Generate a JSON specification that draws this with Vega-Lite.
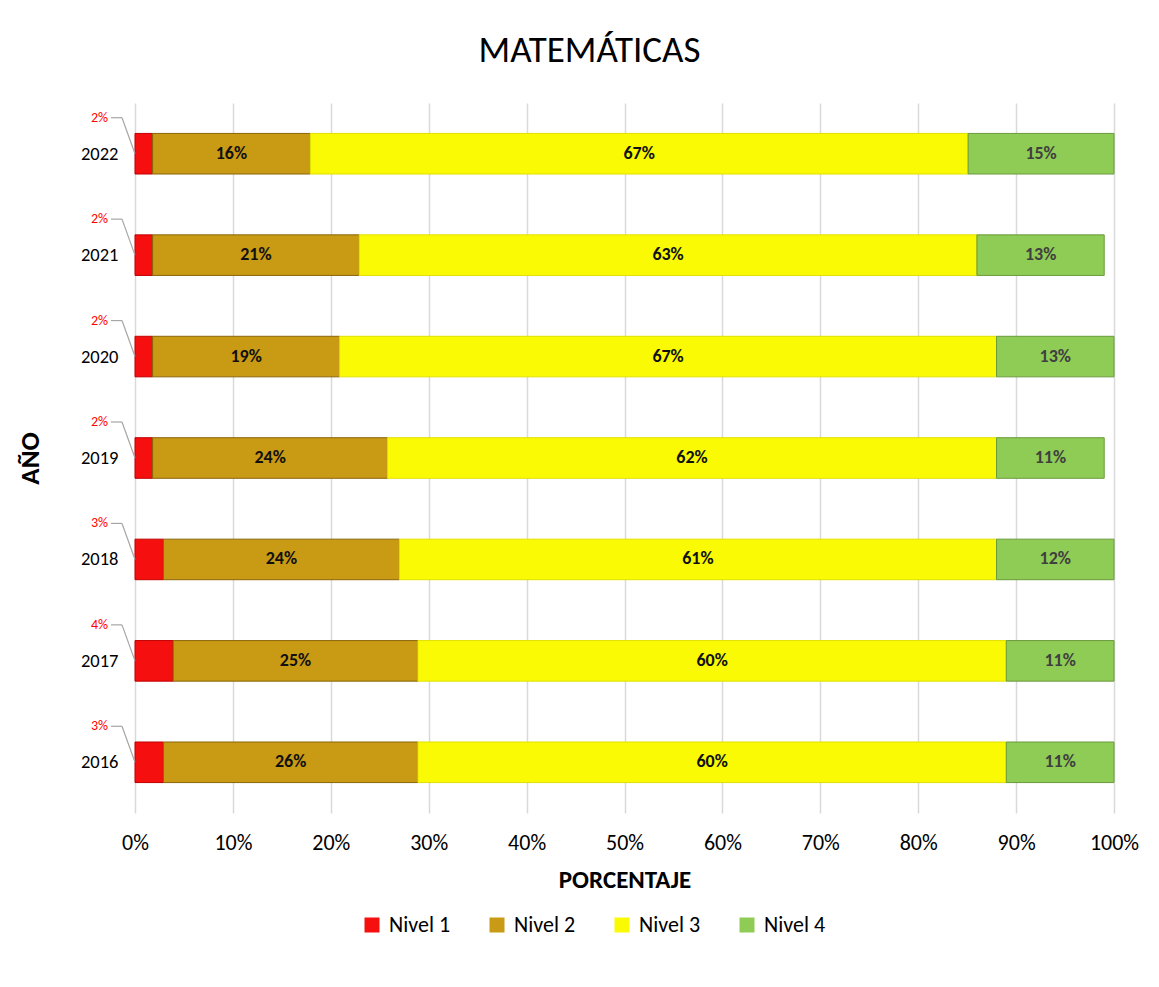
{
  "$schema": "https://vega.github.io/schema/vega-lite/v6.json",
  "width": 979,
  "height": 710,
  "autosize": {"type": "none"},
  "padding": {"left": 135, "top": 103, "right": 45, "bottom": 174},
  "background": "white",
  "title": {
    "text": "MATEMÁTICAS",
    "font": "Carlito, Lato, sans-serif",
    "fontSize": 37,
    "fontWeight": "normal",
    "color": "#000000",
    "anchor": "middle",
    "dx": -35,
    "offset": 4,
    "baseline": "alphabetic"
  },
  "data": {
    "values": [
      {"Año": "2022", "Nivel": "Nivel 1", "Valor": 1.8, "Etiqueta": "2%"},
      {"Año": "2022", "Nivel": "Nivel 2", "Valor": 16.1, "Etiqueta": "16%"},
      {"Año": "2022", "Nivel": "Nivel 3", "Valor": 67.2, "Etiqueta": "67%"},
      {"Año": "2022", "Nivel": "Nivel 4", "Valor": 14.9, "Etiqueta": "15%"},
      {"Año": "2021", "Nivel": "Nivel 1", "Valor": 1.8, "Etiqueta": "2%"},
      {"Año": "2021", "Nivel": "Nivel 2", "Valor": 21.1, "Etiqueta": "21%"},
      {"Año": "2021", "Nivel": "Nivel 3", "Valor": 63.1, "Etiqueta": "63%"},
      {"Año": "2021", "Nivel": "Nivel 4", "Valor": 13.0, "Etiqueta": "13%"},
      {"Año": "2020", "Nivel": "Nivel 1", "Valor": 1.8, "Etiqueta": "2%"},
      {"Año": "2020", "Nivel": "Nivel 2", "Valor": 19.1, "Etiqueta": "19%"},
      {"Año": "2020", "Nivel": "Nivel 3", "Valor": 67.1, "Etiqueta": "67%"},
      {"Año": "2020", "Nivel": "Nivel 4", "Valor": 12.0, "Etiqueta": "13%"},
      {"Año": "2019", "Nivel": "Nivel 1", "Valor": 1.8, "Etiqueta": "2%"},
      {"Año": "2019", "Nivel": "Nivel 2", "Valor": 24.0, "Etiqueta": "24%"},
      {"Año": "2019", "Nivel": "Nivel 3", "Valor": 62.2, "Etiqueta": "62%"},
      {"Año": "2019", "Nivel": "Nivel 4", "Valor": 11.0, "Etiqueta": "11%"},
      {"Año": "2018", "Nivel": "Nivel 1", "Valor": 2.9, "Etiqueta": "3%"},
      {"Año": "2018", "Nivel": "Nivel 2", "Valor": 24.1, "Etiqueta": "24%"},
      {"Año": "2018", "Nivel": "Nivel 3", "Valor": 61.0, "Etiqueta": "61%"},
      {"Año": "2018", "Nivel": "Nivel 4", "Valor": 12.0, "Etiqueta": "12%"},
      {"Año": "2017", "Nivel": "Nivel 1", "Valor": 3.9, "Etiqueta": "4%"},
      {"Año": "2017", "Nivel": "Nivel 2", "Valor": 25.0, "Etiqueta": "25%"},
      {"Año": "2017", "Nivel": "Nivel 3", "Valor": 60.1, "Etiqueta": "60%"},
      {"Año": "2017", "Nivel": "Nivel 4", "Valor": 11.0, "Etiqueta": "11%"},
      {"Año": "2016", "Nivel": "Nivel 1", "Valor": 2.9, "Etiqueta": "3%"},
      {"Año": "2016", "Nivel": "Nivel 2", "Valor": 26.0, "Etiqueta": "26%"},
      {"Año": "2016", "Nivel": "Nivel 3", "Valor": 60.1, "Etiqueta": "60%"},
      {"Año": "2016", "Nivel": "Nivel 4", "Valor": 11.0, "Etiqueta": "11%"}
    ]
  },
  "encoding": {
    "y": {
      "field": "Año",
      "type": "nominal",
      "sort": "descending",
      "scale": {"paddingInner": 0.6, "paddingOuter": 0.3},
      "axis": {
        "title": "AÑO",
        "titleFont": "Carlito, Lato, sans-serif",
        "titleFontSize": 27,
        "titleFontWeight": "bold",
        "titleColor": "#000000",
        "titleX": -105,
        "titleY": 355,
        "titleBaseline": "middle",
        "labelFont": "Carlito, Lato, sans-serif",
        "labelFontSize": 18.5,
        "labelColor": "#000000",
        "labelPadding": 17,
        "ticks": false,
        "domain": false,
        "grid": false
      }
    }
  },
  "layer": [
    {
      "mark": {"type": "bar", "strokeWidth": 1},
      "encoding": {
        "x": {
          "field": "Valor",
          "type": "quantitative",
          "stack": "zero",
          "scale": {"domain": [0, 100], "nice": false},
          "axis": {
            "title": "PORCENTAJE",
            "titleFont": "Carlito, Lato, sans-serif",
            "titleFontSize": 25,
            "titleFontWeight": "bold",
            "titleColor": "#000000",
            "titlePadding": 14,
            "values": [0, 10, 20, 30, 40, 50, 60, 70, 80, 90, 100],
            "labelExpr": "datum.value + '%'",
            "labelFont": "Carlito, Lato, sans-serif",
            "labelFontSize": 22,
            "labelColor": "#000000",
            "labelPadding": 19,
            "labelFlush": false,
            "ticks": false,
            "domain": false,
            "grid": true,
            "gridColor": "#D9D9D9",
            "gridWidth": 1.5
          }
        },
        "color": {
          "field": "Nivel",
          "type": "nominal",
          "scale": {
            "domain": ["Nivel 1", "Nivel 2", "Nivel 3", "Nivel 4"],
            "range": ["#F50F0F", "#C99A14", "#FAFA05", "#8FCC55"]
          },
          "legend": {
            "title": null,
            "orient": "none",
            "direction": "horizontal",
            "legendX": 226,
            "legendY": 811,
            "symbolType": "square",
            "symbolSize": 225,
            "symbolStrokeWidth": 0,
            "labelFont": "Carlito, Lato, sans-serif",
            "labelFontSize": 22,
            "labelColor": "#000000",
            "labelOffset": 6,
            "columnPadding": 35
          }
        },
        "stroke": {
          "field": "Nivel",
          "type": "nominal",
          "scale": {
            "domain": ["Nivel 1", "Nivel 2", "Nivel 3", "Nivel 4"],
            "range": ["#C00000", "#8A6508", "#E0E000", "#6A9A3C"]
          },
          "legend": null
        },
        "order": {"field": "Nivel", "sort": "ascending"}
      }
    },
    {
      "mark": {
        "type": "text",
        "font": "Carlito, Lato, sans-serif",
        "fontSize": 18,
        "fontWeight": "bold",
        "align": "center",
        "baseline": "middle"
      },
      "encoding": {
        "x": {"field": "Valor", "type": "quantitative", "stack": "zero", "bandPosition": 0.5},
        "detail": {"field": "Nivel"},
        "order": {"field": "Nivel", "sort": "ascending"},
        "text": {
          "condition": {"test": "datum.Nivel == 'Nivel 1'", "value": ""},
          "field": "Etiqueta"
        },
        "color": {
          "condition": {"test": "datum.Nivel == 'Nivel 4'", "value": "#404040"},
          "value": "#111111"
        }
      }
    },
    {
      "transform": [{"filter": "datum.Nivel == 'Nivel 1'"}],
      "mark": {
        "type": "text",
        "font": "Carlito, Lato, sans-serif",
        "fontSize": 14,
        "fontWeight": "normal",
        "color": "#FF0000",
        "align": "right",
        "baseline": "middle",
        "dx": -27,
        "dy": -36
      },
      "encoding": {
        "x": {"datum": 0, "type": "quantitative"},
        "text": {"field": "Etiqueta"}
      }
    },
    {
      "transform": [{"filter": "datum.Nivel == 'Nivel 1'"}],
      "mark": {
        "type": "rule",
        "color": "#A6A6A6",
        "strokeWidth": 1.2,
        "xOffset": -13,
        "x2Offset": 0,
        "yOffset": -36,
        "y2Offset": 0
      },
      "encoding": {
        "x": {"datum": 0, "type": "quantitative"},
        "x2": {"datum": 0},
        "y": {"field": "Año", "type": "nominal", "sort": "descending"},
        "y2": {"field": "Año"}
      }
    },
    {
      "transform": [{"filter": "datum.Nivel == 'Nivel 1'"}],
      "mark": {
        "type": "rule",
        "color": "#A6A6A6",
        "strokeWidth": 1.2,
        "xOffset": -24,
        "x2Offset": -13,
        "yOffset": -36
      },
      "encoding": {
        "x": {"datum": 0, "type": "quantitative"},
        "x2": {"datum": 0},
        "y": {"field": "Año", "type": "nominal", "sort": "descending"}
      }
    }
  ],
  "config": {
    "view": {"stroke": null}
  }
}
